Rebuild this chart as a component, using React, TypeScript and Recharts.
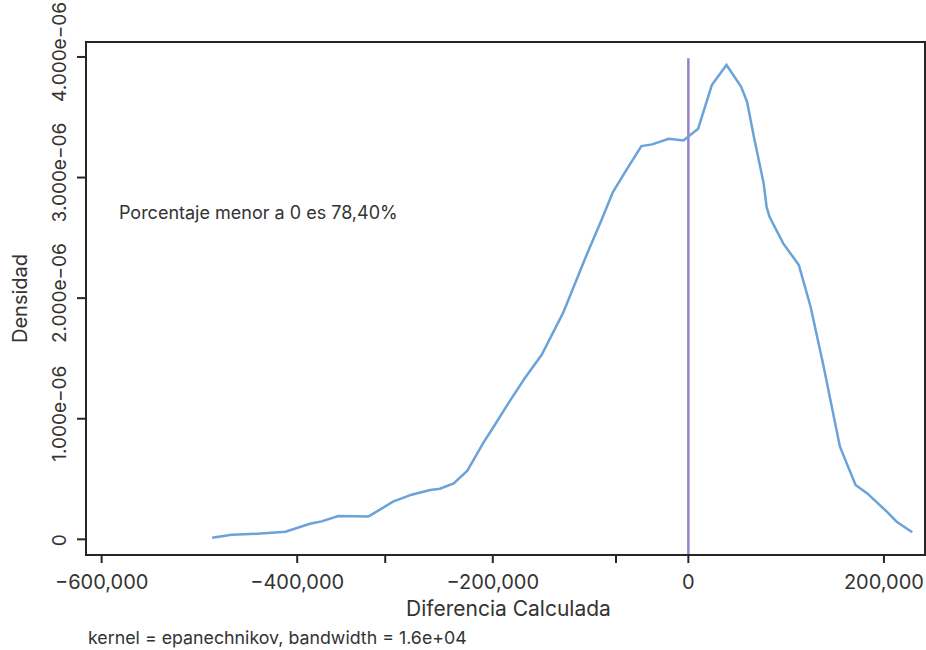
import React from 'react';
import { LineChart, Line, XAxis, YAxis, ReferenceLine, ReferenceArea, ReferenceDot, Label } from 'recharts';

// Kernel density estimate of "Diferencia Calculada"
const diffValues = [
  -487000, -467000, -441000, -412000, -387000, -375000, -358000, -327000, -302000, -283000,
  -264000, -254000, -240000, -226000, -210000, -198000, -182000, -167000, -150000, -128000,
  -104000, -90000, -77000, -63000, -48000, -37000, -20000, -5000, 10000, 24000,
  39000, 54000, 60000, 67000, 77000, 80000, 83000, 97000, 113000, 125000,
  138000, 155000, 171000, 183000, 203000, 213000, 229000,
];
const density = [
  0.013e-6, 0.038e-6, 0.046e-6, 0.063e-6, 0.129e-6, 0.149e-6, 0.193e-6, 0.19e-6, 0.312e-6, 0.37e-6,
  0.409e-6, 0.42e-6, 0.464e-6, 0.569e-6, 0.796e-6, 0.948e-6, 1.155e-6, 1.34e-6, 1.53e-6, 1.88e-6,
  2.36e-6, 2.625e-6, 2.882e-6, 3.068e-6, 3.261e-6, 3.275e-6, 3.322e-6, 3.308e-6, 3.405e-6, 3.767e-6,
  3.933e-6, 3.753e-6, 3.629e-6, 3.338e-6, 2.952e-6, 2.758e-6, 2.675e-6, 2.454e-6, 2.274e-6, 1.929e-6,
  1.445e-6, 0.768e-6, 0.45e-6, 0.381e-6, 0.229e-6, 0.146e-6, 0.058e-6,
];

const xTicks = [-600000, -400000, -310000, -200000, -74000, 0, 200000];
const xLabeledTicks = [-600000, -400000, -200000, 0, 200000];
const yTicks = [0, 1e-6, 2e-6, 3e-6, 4e-6];
const xDomain = [-616000, 242000];
const yDomain = [-0.13e-6, 4.124e-6];
const refLineTop = 3.99e-6;
const noteX = -582300;
const noteY = 2.714e-6;

const noteText = 'Porcentaje menor a 0 es 78,40%';
const captionText = 'kernel = epanechnikov, bandwidth = 1.6e+04';
const xTitle = 'Diferencia Calculada';
const yTitle = 'Densidad';

const data = diffValues.map((x, i) => ({ x, y: density[i] }));

const FONT = 'Inter, "DejaVu Sans", sans-serif';
const TEXT = '#333333';
const AXIS = '#262626';

const withCommas = (n: number) => {
  const s = String(Math.round(Math.abs(n)));
  return s.replace(/\B(?=(\d{3})+(?!\d))/g, ',');
};

const fmtX = (v: number) =>
  xLabeledTicks.includes(v) ? (v < 0 ? '\u2212' : '') + withCommas(v) : '';

const YTick = (props: any) => {
  const { x, y, payload } = props;
  const v = payload.value;
  const label = v === 0 ? '0' : (v * 1e6).toFixed(3) + 'e\u221206';
  const cy = v === 0 ? y + 1 : y - 5;
  return (
    <text
      x={x}
      y={cy}
      transform={`rotate(-90, ${x}, ${cy})`}
      textAnchor="middle"
      fill={TEXT}
      fontSize={19}
      fontFamily={FONT}
    >
      {label}
    </text>
  );
};

export default function App() {
  return (
    <div style={{ position: 'absolute', left: 0, top: 0, width: 926, height: 650, background: '#fff' }}>
      <LineChart
        width={926}
        height={650}
        data={data}
        margin={{ top: 42, right: 1, bottom: 0, left: 0 }}
      >
        <XAxis
          type="number"
          dataKey="x"
          domain={xDomain}
          ticks={xTicks}
          tickFormatter={fmtX}
          allowDataOverflow
          height={95}
          tickSize={8}
          tickMargin={12}
          stroke={AXIS}
          strokeWidth={2}
          tick={{ fill: TEXT, fontSize: 20, fontFamily: FONT }}
          interval={0}
        >
          <Label
            content={(p: any) => {
              const vb = p.viewBox;
              return (
                <text x={vb.x + vb.width / 2 + 3} y={vb.y + 60.5} textAnchor="middle" fill={TEXT} fontSize={21} fontFamily={FONT}>
                  {xTitle}
                </text>
              );
            }}
          />
          <Label
            content={(p: any) => {
              const vb = p.viewBox;
              return (
                <text x={vb.x + 2} y={vb.y + 88.5} textAnchor="start" fill={TEXT} fontSize={17.8} fontFamily={FONT}>
                  {captionText}
                </text>
              );
            }}
          />
        </XAxis>
        <YAxis
          type="number"
          domain={yDomain}
          ticks={yTicks}
          allowDataOverflow
          width={86}
          tickSize={9}
          tickMargin={11}
          stroke={AXIS}
          strokeWidth={2}
          tick={<YTick />}
          interval={0}
        >
          <Label
            content={(p: any) => {
              const vb = p.viewBox;
              const cx = 27;
              const cy = vb.y + vb.height / 2;
              return (
                <text x={cx} y={cy} transform={`rotate(-90, ${cx}, ${cy})`} textAnchor="middle" fill={TEXT} fontSize={20} fontFamily={FONT}>
                  {yTitle}
                </text>
              );
            }}
          />
        </YAxis>
        <ReferenceArea
          x1={xDomain[0]}
          x2={xDomain[1]}
          y1={yDomain[0]}
          y2={yDomain[1]}
          fill="none"
          fillOpacity={0}
          stroke={AXIS}
          strokeWidth={2}
          ifOverflow="visible"
        />
        <ReferenceLine
          segment={[{ x: 0, y: yDomain[0] }, { x: 0, y: refLineTop }]}
          stroke="#9b7fc7"
          strokeWidth={2.5}
          ifOverflow="visible"
        />
        <Line
          type="linear"
          dataKey="y"
          stroke="#6aa3d8"
          strokeWidth={2.5}
          dot={false}
          isAnimationActive={false}
        />
        <ReferenceDot
          x={noteX}
          y={noteY}
          r={1}
          fill="none"
          stroke="none"
          ifOverflow="visible"
          label={(p: any) => {
            const vb = p.viewBox;
            return (
              <text x={vb.x + vb.width / 2} y={vb.y + vb.height / 2 + 6.5} textAnchor="start" fill={TEXT} fontSize={18} fontFamily={FONT}>
                {noteText}
              </text>
            );
          }}
        />
      </LineChart>
    </div>
  );
}
